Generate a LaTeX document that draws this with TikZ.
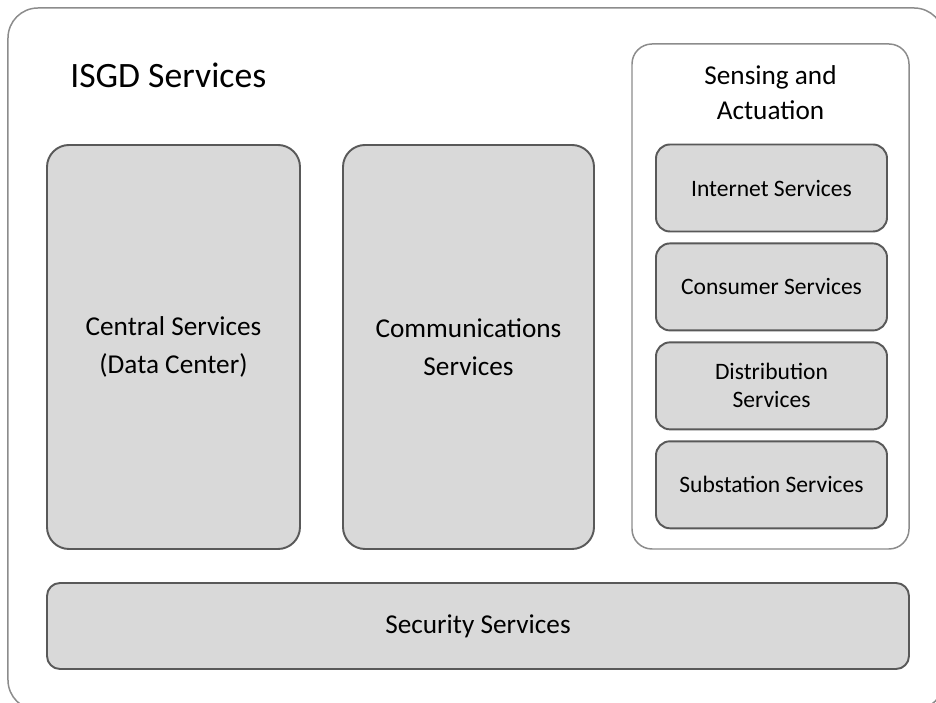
\documentclass[tikz,border=0pt]{standalone}
\usepackage{fontspec}
\setmainfont{Carlito}
\usetikzlibrary{positioning}

\definecolor{boxfill}{HTML}{D9D9D9}
\definecolor{boxline}{HTML}{595959}
\definecolor{frameline}{HTML}{8C8C8C}

\tikzset{
    frame/.style={draw=frameline, line width=0.85pt, fill=white},
    service/.style={draw=boxline, line width=1.1pt, fill=boxfill, align=center,
                    inner sep=0pt},
    bigsvc/.style={service, rounded corners=4.4mm,
                   font=\fontsize{15.5}{21.5}\selectfont},
    smallsvc/.style={service, rounded corners=2.8mm, minimum width=46.2mm,
                     minimum height=17.4mm,
                     font=\fontsize{13.4}{15.9}\selectfont}
}

\begin{document}
\begin{tikzpicture}[x=0.2mm, y=-0.2mm]
    \useasboundingbox (0,0) rectangle (936,703);

    % outer frame, runs past the right and bottom edges
    \node [frame, rounded corners=6mm, minimum width=187.2mm, minimum height=140.4mm,
           inner sep=0pt] (isgd) at (476,359) { };
    \node [anchor=west, inner sep=0pt, font=\fontsize{20.3}{24}\selectfont]
          (title) at (70,75) {ISGD Services};

    \node [bigsvc, minimum width=50.6mm, minimum height=80.8mm] (central)
          at (173.5,347) {Central Services\\(Data Center)};
    \node [bigsvc, minimum width=50.2mm, minimum height=80.8mm] (comm)
          at (468.5,347) {Communications\\Services};

    \node [frame, rounded corners=4mm, minimum width=55.4mm, minimum height=101mm,
           inner sep=0pt] (sensing) at (770.5,296.5) { };
    \node [align=center, inner sep=0pt, font=\fontsize{15.5}{19.8}\selectfont]
          (sensingtitle) at (770.5,92.5) {Sensing and\\Actuation};

    \node [smallsvc] (internet) at (771.5,188) {Internet Services};
    \node [smallsvc, below=2.0mm of internet] (consumer) {Consumer Services};
    \node [smallsvc, below=2.0mm of consumer] (distribution) {Distribution\\Services};
    \node [smallsvc, below=2.0mm of distribution] (substation) {Substation Services};

    \node [bigsvc, rounded corners=2.6mm, minimum width=172.4mm, minimum height=17.2mm]
          (security) at (478,626) {Security Services};
\end{tikzpicture}
\end{document}
